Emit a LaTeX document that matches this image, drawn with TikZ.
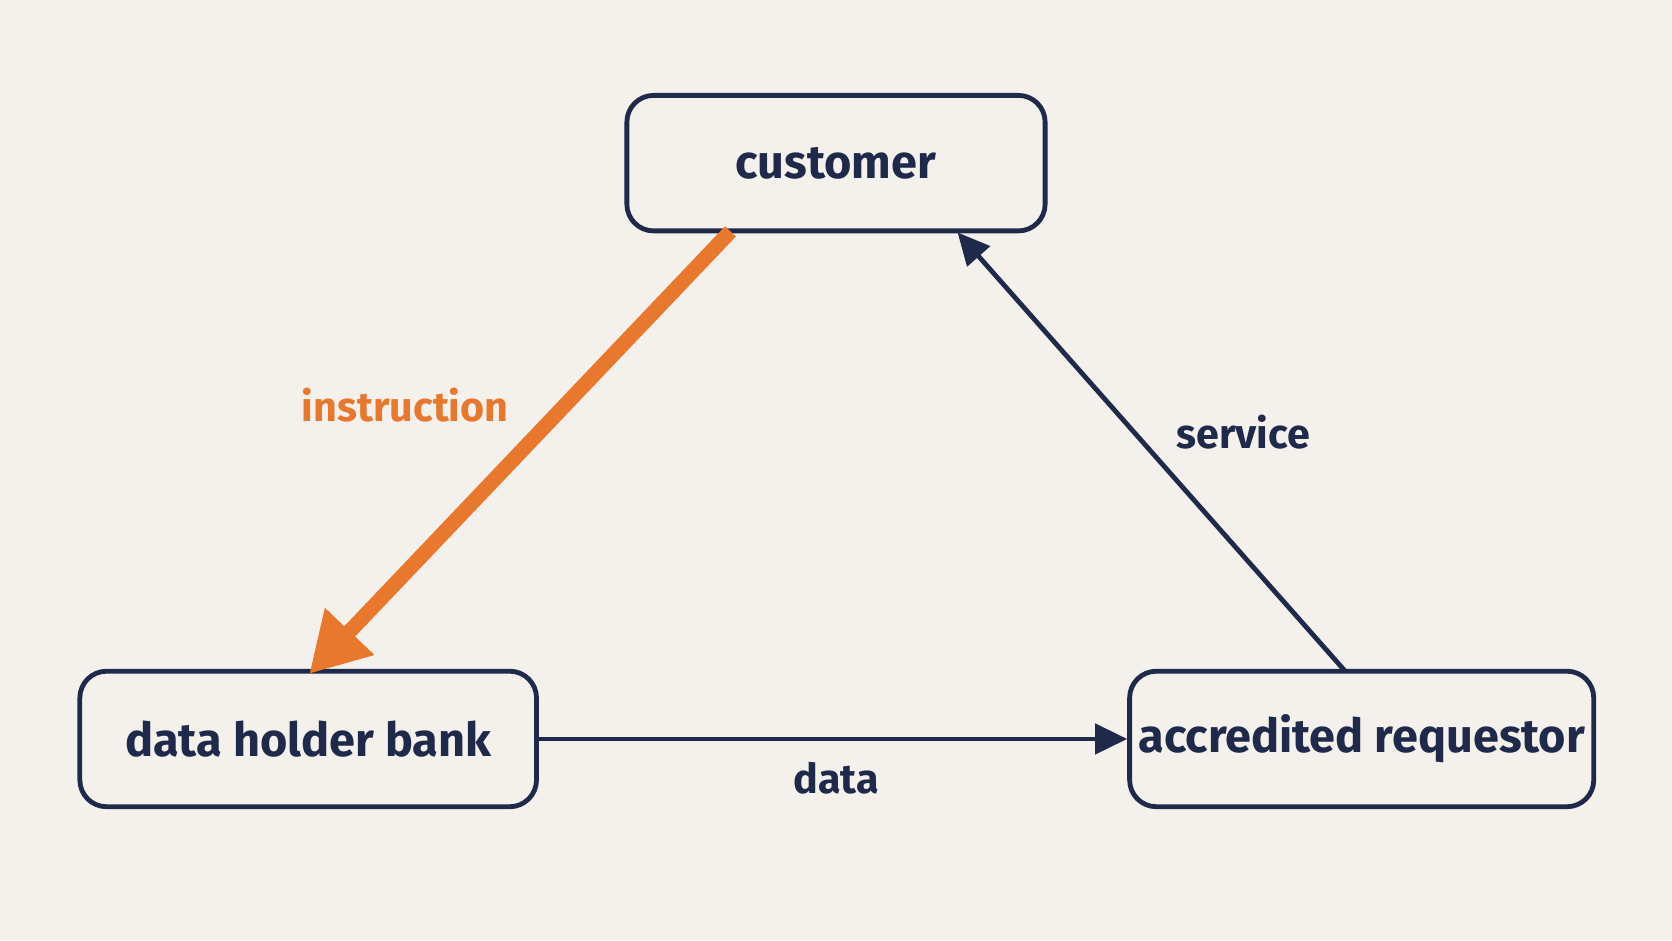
\documentclass[tikz,border=0pt]{standalone}
\usepackage{fontspec}
\setmainfont{Fira Sans}
\usetikzlibrary{arrows.meta}
\definecolor{navy}{HTML}{1F2A4A}
\definecolor{orng}{HTML}{E8782E}
\definecolor{paper}{HTML}{F4F0EC}
\tikzset{
		party/.style={draw=navy, line width=0.45mm, rounded corners=0.25cm, text=navy, font=\fontsize{12.5}{15}\selectfont\bfseries, inner sep=0pt},
		flow/.style={navy, line width=0.45mm, -{Triangle[length=0.3cm, width=0.28cm]}},
		push/.style={orng, line width=1.4mm, -{Triangle[length=0.55cm, width=0.6cm]}},
		tag/.style={font=\fontsize{11}{13}\selectfont\bfseries}
	}
\begin{document}
\begin{tikzpicture}[x=0.01cm, y=-0.01cm]
	
	\fill[paper] (0,0) rectangle (1568,882);
	
	\node[party, minimum width=3.92cm, minimum height=1.27cm] (customer) at (784,153) {customer};
	\node[party, minimum width=4.28cm, minimum height=1.27cm] (bank) at (289,693) {data holder bank};
	\node[party, minimum width=4.35cm, minimum height=1.27cm] (requestor) at (1277,693) {accredited requestor};
	
	\coordinate (instrStart) at (685,217);
	\coordinate (instrEnd) at (290,632);
	\coordinate (servStart) at (1262,630);
	\coordinate (servEnd) at (898,218);
	
	\draw[push] (instrStart) -- (instrEnd);
	\draw[flow] (servStart) -- (servEnd);
	\draw[flow] (bank.east) -- (requestor.west);
	
	\node[tag, text=orng] at (380,380) {instruction};
	\node[tag, text=navy] at (1166,405) {service};
	\node[tag, text=navy] at (784,730) {data};
	
\end{tikzpicture}
\end{document}
